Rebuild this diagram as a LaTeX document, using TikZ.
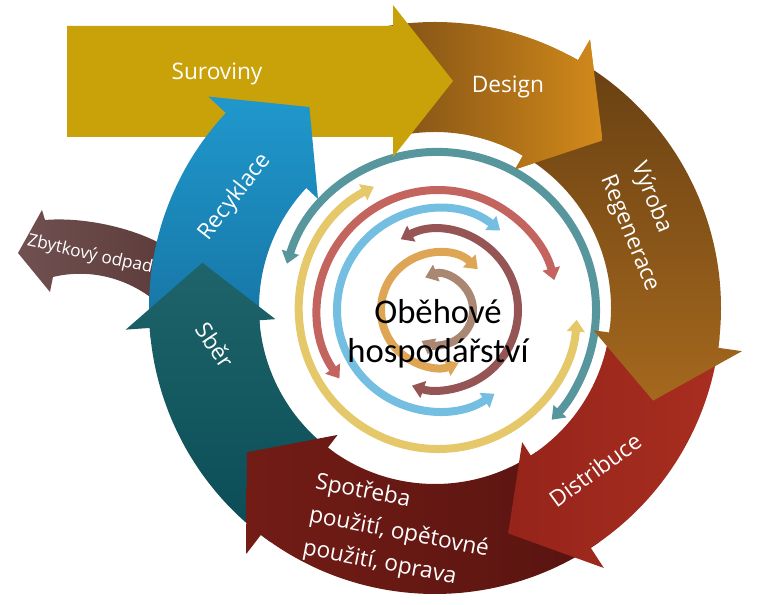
\documentclass[tikz,border=0pt]{standalone}
\usepackage{fontspec}
\setmainfont{Open Sans}
\newfontfamily\centerfont{Carlito}
\usetikzlibrary{arrows.meta}

\definecolor{suro}{RGB}{201,162,10}
\definecolor{desL}{RGB}{128,80,22}
\definecolor{desR}{RGB}{210,138,26}
\definecolor{vyrT}{RGB}{104,64,18}
\definecolor{vyrB}{RGB}{165,104,30}
\definecolor{disL}{RGB}{150,36,26}
\definecolor{disR}{RGB}{168,46,32}
\definecolor{spoL}{RGB}{115,28,22}
\definecolor{spoR}{RGB}{88,20,16}
\definecolor{sbeT}{RGB}{30,100,106}
\definecolor{sbeB}{RGB}{10,76,86}
\definecolor{recT}{RGB}{32,152,204}
\definecolor{recB}{RGB}{22,116,164}
\definecolor{zbyL}{RGB}{112,80,80}
\definecolor{zbyR}{RGB}{94,60,60}
\definecolor{cteal}{RGB}{88,150,158}
\definecolor{cyellow}{RGB}{228,200,105}
\definecolor{csalmon}{RGB}{195,100,95}
\definecolor{cblue}{RGB}{115,190,225}
\definecolor{cmauve}{RGB}{150,85,85}
\definecolor{corange}{RGB}{222,165,85}
\definecolor{cbrown}{RGB}{170,135,115}

\begin{document}
\begin{tikzpicture}[x=0.75pt,y=0.75pt,
  ringline/.style={line width=6pt,{Triangle[width=13pt,length=9pt]}-{Triangle[width=13pt,length=9pt]}},
  ringpath/.style 2 args={insert path={(#1:286) arc[start angle=#1,end angle=#2,radius=286] -- (#2:310) -- (#2-15:237) -- (#2:160) -- (#2:176) arc[start angle=#2,end angle=#1,radius=176] -- cycle}},
  lbl/.style={text=white,font=\fontsize{17}{25}\selectfont,inner sep=0pt},
  ctr/.style={text=black,font=\centerfont\fontsize{26}{29}\selectfont,inner sep=0pt,anchor=base}
]
\useasboundingbox (0,0) rectangle (779,-605);

% inner circular arrows
\begin{scope}[shift={(438,-310)}]
\draw[ringline,cteal] (163:158) arc[start angle=163,end angle=-44,radius=158];
\draw[ringline,cyellow] (117.5:139) arc[start angle=117.5,end angle=356,radius=139];
\draw[ringline,csalmon] (214.8:120) arc[start angle=214.8,end angle=14.4,radius=120];
\draw[ringline,cblue] (52:101) arc[start angle=52,end angle=304,radius=101];
\draw[ringline,cmauve] (117.8:80) arc[start angle=117.8,end angle=-109,radius=80];
\draw[ringline,corange] (45.7:57) arc[start angle=45.7,end angle=291,radius=57];
\draw[ringline,cbrown] (111.5:35) arc[start angle=111.5,end angle=-118,radius=35];
\end{scope}

% residual waste arrow
\shade[left color=zbyL,right color=zbyR] (18,-253) -- (42,-210) -- (45,-220) .. controls (80,-217) and (130,-226) .. (165,-246) -- (160,-305) .. controls (130,-278) and (90,-268) .. (53,-277) -- (50,-292) -- cycle;

% Design (first pass)
\begin{scope}[shift={(435,-308)}]
\shade[left color=desL,right color=desR,ringpath={100}{60}];
\end{scope}

% Suroviny
\fill[suro] (67,-26) -- (393,-26) -- (393,-5) -- (453,-81) -- (393,-157) -- (393,-137) -- (67,-137) -- cycle;

\begin{scope}[shift={(435,-308)}]
\shade[top color=recT,bottom color=recB,ringpath={186}{137}];
\shade[top color=sbeT,bottom color=sbeB,ringpath={235}{184}];
\shade[left color=spoL,right color=spoR,ringpath={305}{232.5}];
\shade[left color=disL,right color=disR,ringpath={-6}{-57}];
\shade[top color=vyrT,bottom color=vyrB,ringpath={62}{-8}];
\begin{scope}
\clip (35,108) rectangle (400,400);
\shade[left color=desL,right color=desR,ringpath={100}{60}];
\end{scope}
\end{scope}

% labels
\node[lbl,anchor=base] (suroviny) at (217,-80) {Suroviny};
\node[lbl,anchor=base] (design) at (508,-93) {Design};
\node[lbl,rotate=-68,align=left] (vyroba) at (645,-227) {Výroba\\Regenerace};
\node[lbl,rotate=36] (distribuce) at (595,-470) {Distribuce};
\node[lbl,rotate=-11,align=left] (spotreba) at (399,-533) {Spotřeba\\použití, opětovné\\použití, oprava};
\node[lbl,rotate=-56] (sber) at (215,-345) {Sběr};
\node[lbl,rotate=52] (recyklace) at (235,-197) {Recyklace};
\node[lbl,rotate=-12.5,font=\fontsize{13}{15}\selectfont] (zbytkovy) at (90,-255) {Zbytkový odpad};
\node[ctr] (obehove) at (438,-324) {Oběhové};
\node[ctr] (hospodarstvi) at (438,-363) {hospodářství};
\end{tikzpicture}
\end{document}
